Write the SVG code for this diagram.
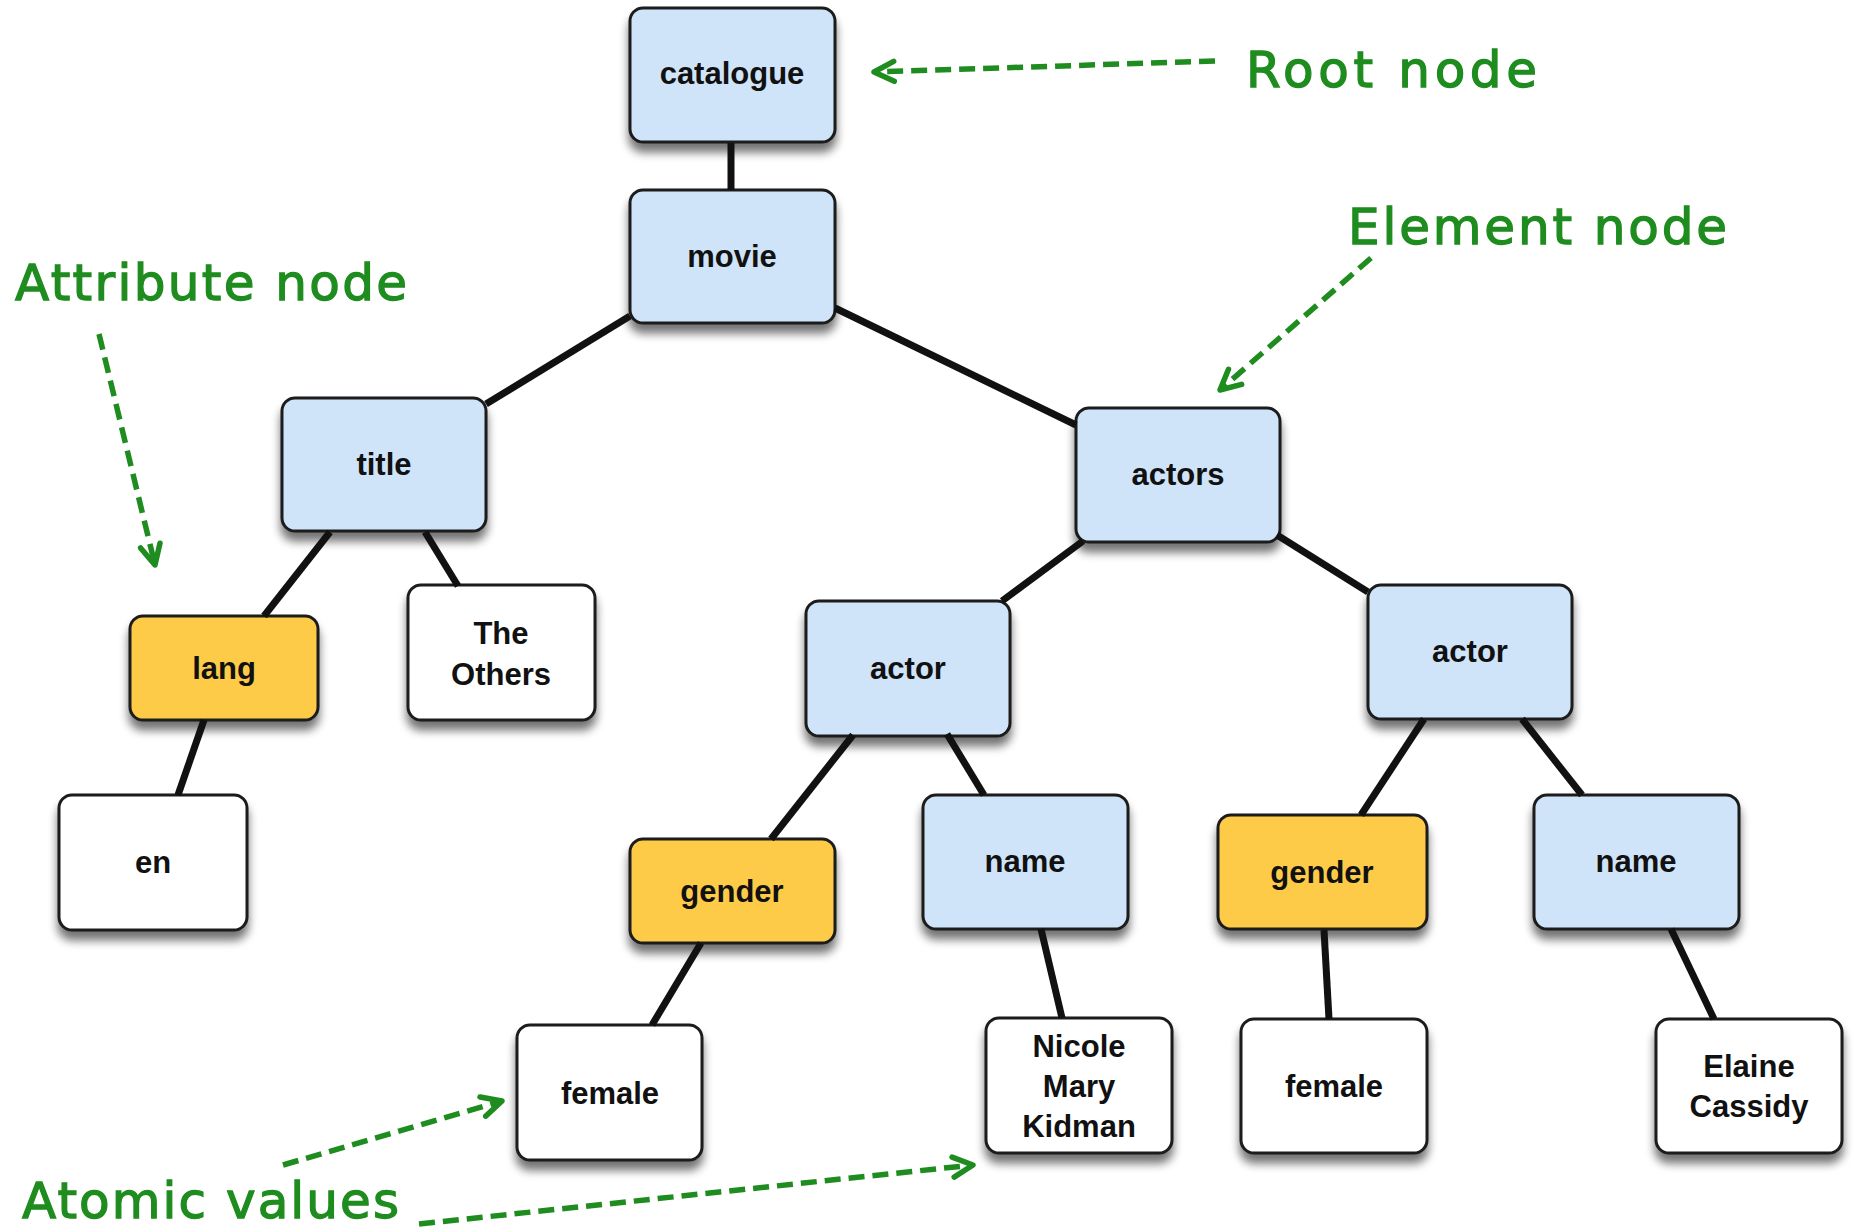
<svg xmlns="http://www.w3.org/2000/svg" width="1858" height="1229" viewBox="0 0 1858 1229">
<style>
.box{stroke:#1c1c1c;stroke-width:3;filter:url(#sh)}
.el{fill:#cfe4f8}
.at{fill:#fecb48}
.val{fill:#ffffff}
.lbl{font-family:"Liberation Sans",Arial,sans-serif;font-weight:bold;font-size:31px;text-anchor:middle;fill:#111}
.edge{stroke:#111;stroke-width:7;fill:none}
.ann{fill:#1e8c1e;stroke:#1e8c1e;stroke-width:1.3px;font-family:"DejaVu Sans",sans-serif;font-size:50px}
.dash{stroke:#1e8c1e;stroke-width:5.5;stroke-dasharray:16 8;fill:none;marker-end:url(#chev)}
</style>
<defs>
<filter id="sh" x="-20%" y="-20%" width="140%" height="150%">
<feGaussianBlur in="SourceAlpha" stdDeviation="5"/>
<feOffset dx="0" dy="9" result="b"/>
<feComponentTransfer><feFuncA type="linear" slope="0.55"/></feComponentTransfer>
<feMerge><feMergeNode/><feMergeNode in="SourceGraphic"/></feMerge>
</filter>
<marker id="chev" viewBox="0 0 26 26" refX="23" refY="13" markerWidth="26" markerHeight="26" markerUnits="userSpaceOnUse" orient="auto">
<path d="M3,3 L23,13 L3,23" fill="none" stroke="#1e8c1e" stroke-width="5.5" stroke-linecap="round" stroke-linejoin="round"/>
</marker>
</defs>
<rect width="1858" height="1229" fill="#ffffff"/>

<g id="nodes">
<g id="n-catalogue"><rect class="box el" x="630" y="8" width="205" height="134" rx="13"/><text class="lbl" x="732" y="84">catalogue</text></g>
<g id="n-movie"><rect class="box el" x="630" y="190" width="205" height="133" rx="13"/><text class="lbl" x="732" y="267">movie</text></g>
<g id="n-title"><rect class="box el" x="282" y="398" width="204" height="133" rx="13"/><text class="lbl" x="384" y="475">title</text></g>
<g id="n-lang"><rect class="box at" x="130" y="616" width="188" height="104" rx="13"/><text class="lbl" x="224" y="679">lang</text></g>
<g id="n-theothers"><rect class="box val" x="408" y="585" width="187" height="135" rx="13"/><text class="lbl" x="501" y="644">The</text><text class="lbl" x="501" y="685">Others</text></g>
<g id="n-en"><rect class="box val" x="59" y="795" width="188" height="135" rx="13"/><text class="lbl" x="153" y="873">en</text></g>
<g id="n-actors"><rect class="box el" x="1076" y="408" width="204" height="134" rx="13"/><text class="lbl" x="1178" y="485">actors</text></g>
<g id="n-actor1"><rect class="box el" x="806" y="601" width="204" height="135" rx="13"/><text class="lbl" x="908" y="679">actor</text></g>
<g id="n-actor2"><rect class="box el" x="1368" y="585" width="204" height="134" rx="13"/><text class="lbl" x="1470" y="662">actor</text></g>
<g id="n-gender1"><rect class="box at" x="630" y="839" width="205" height="104" rx="13"/><text class="lbl" x="732" y="902">gender</text></g>
<g id="n-name1"><rect class="box el" x="923" y="795" width="205" height="134" rx="13"/><text class="lbl" x="1025" y="872">name</text></g>
<g id="n-gender2"><rect class="box at" x="1218" y="815" width="209" height="114" rx="13"/><text class="lbl" x="1322" y="883">gender</text></g>
<g id="n-name2"><rect class="box el" x="1534" y="795" width="205" height="134" rx="13"/><text class="lbl" x="1636" y="872">name</text></g>
<g id="n-female1"><rect class="box val" x="517" y="1025" width="185" height="135" rx="13"/><text class="lbl" x="610" y="1104">female</text></g>
<g id="n-nicole"><rect class="box val" x="986" y="1018" width="186" height="135" rx="13"/><text class="lbl" x="1079" y="1057">Nicole</text><text class="lbl" x="1079" y="1097">Mary</text><text class="lbl" x="1079" y="1137">Kidman</text></g>
<g id="n-female2"><rect class="box val" x="1241" y="1019" width="186" height="134" rx="13"/><text class="lbl" x="1334" y="1097">female</text></g>
<g id="n-elaine"><rect class="box val" x="1656" y="1019" width="186" height="134" rx="13"/><text class="lbl" x="1749" y="1077">Elaine</text><text class="lbl" x="1749" y="1117">Cassidy</text></g>
</g>

<g id="connectors">
<line class="edge" x1="731" y1="143" x2="731" y2="190"/>
<line class="edge" x1="630" y1="316" x2="486" y2="404"/>
<line class="edge" x1="835" y1="308" x2="1076" y2="425"/>
<line class="edge" x1="330" y1="532" x2="264" y2="616"/>
<line class="edge" x1="425" y1="532" x2="458" y2="586"/>
<line class="edge" x1="204" y1="720" x2="178" y2="795"/>
<line class="edge" x1="1083" y1="541" x2="1002" y2="601"/>
<line class="edge" x1="1277" y1="535" x2="1368" y2="592"/>
<line class="edge" x1="853" y1="735" x2="771" y2="839"/>
<line class="edge" x1="947" y1="734" x2="984" y2="795"/>
<line class="edge" x1="1424" y1="719" x2="1361" y2="815"/>
<line class="edge" x1="1522" y1="719" x2="1582" y2="795"/>
<line class="edge" x1="701" y1="943" x2="652" y2="1025"/>
<line class="edge" x1="1041" y1="929" x2="1062" y2="1018"/>
<line class="edge" x1="1324" y1="930" x2="1329" y2="1019"/>
<line class="edge" x1="1671" y1="929" x2="1714" y2="1019"/>
</g>

<g id="annotations">
<g id="a-root"><text class="ann" x="1246" y="87" textLength="291" lengthAdjust="spacing">Root node</text><path class="dash" d="M1215,61 L874,72"/></g>
<g id="a-element"><text class="ann" x="1348" y="244" textLength="379" lengthAdjust="spacing">Element node</text><path class="dash" d="M1371,258 L1220,390"/></g>
<g id="a-attribute"><text class="ann" x="15" y="300" textLength="392" lengthAdjust="spacing">Attribute node</text><path class="dash" d="M99,334 L155,565"/></g>
<g id="a-atomic"><text class="ann" x="22" y="1218" textLength="377" lengthAdjust="spacing">Atomic values</text><path class="dash" d="M283,1165 L502,1101"/><path class="dash" d="M419,1224 L973,1165"/></g>
</g>
</svg>
